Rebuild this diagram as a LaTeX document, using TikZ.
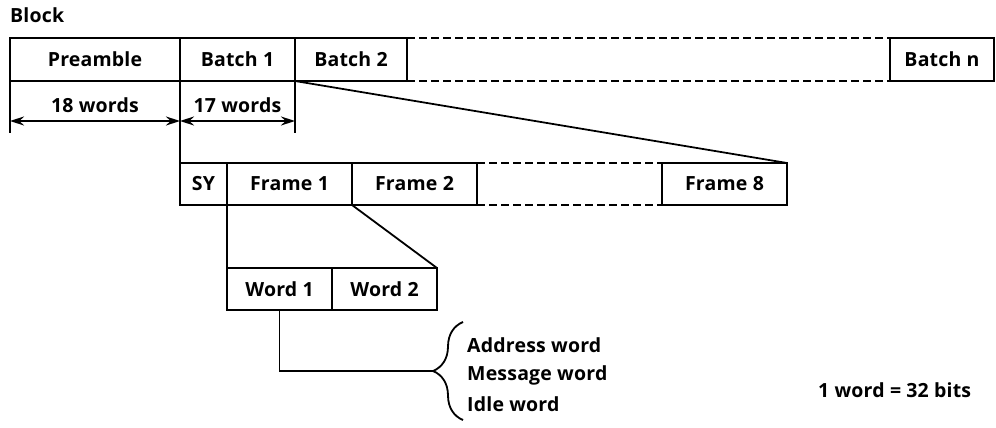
\documentclass[tikz,border=0pt]{standalone}
\usepackage{fontspec}
\newfontfamily\lblfont{Open Sans}[LetterSpace=1]
\usepackage{tikz}
\usetikzlibrary{positioning}
\usetikzlibrary{arrows.meta}
\usetikzlibrary{decorations.pathreplacing}

\begin{document}
\begin{tikzpicture}[x=1pt,y=-1pt,font=\lblfont\bfseries\fontsize{19.5}{23}\selectfont]
	\tikzstyle{BoxStyle}  = [draw, line width=1.8pt, minimum height=43pt, inner sep=0pt, outer sep=0pt, anchor=north west]
	\tikzstyle{LineStyle} = [line width=1.8pt]
	\tikzstyle{DashStyle} = [line width=1.8pt, dash pattern=on 8pt off 4pt]
	\tikzstyle{ArrowStyle}= [<->, >={Stealth[length=14pt,width=9pt]}, line width=1.4pt]
	\tikzstyle{TextStyle} = [anchor=west, inner sep=0pt]
	\useasboundingbox (0,0) rectangle (996,428);
	\node[TextStyle] (blk) at (10,15) {Block};
	\node[BoxStyle, minimum width=170pt] (pre) at (10,38) {Preamble};
	\node[BoxStyle, minimum width=115pt, right=0pt of pre] (b1) {Batch 1};
	\node[BoxStyle, minimum width=112pt, right=0pt of b1] (b2) {Batch 2};
	\node[BoxStyle, minimum width=104pt, right=483pt of b2] (bn) {Batch n};
	\node[BoxStyle, minimum width=47pt, minimum height=42pt, below=82pt of pre.south east, anchor=north west] (sy) {SY};
	\node[BoxStyle, minimum width=125pt, minimum height=42pt, right=0pt of sy] (f1) {Frame 1};
	\node[BoxStyle, minimum width=125pt, minimum height=42pt, right=0pt of f1] (f2) {Frame 2};
	\node[BoxStyle, minimum width=125pt, minimum height=42pt, right=185pt of f2] (f8) {Frame 8};
	\node[BoxStyle, minimum width=105pt, minimum height=42pt, below=63pt of f1.south west, anchor=north west] (w1) {Word 1};
	\node[BoxStyle, minimum width=105pt, minimum height=42pt, right=0pt of w1] (w2) {Word 2};
	\node[TextStyle] (adr) at (467,345) {Address word};
	\node[TextStyle] (msg) at (467,375) {Message word};
	\node[TextStyle] (idl) at (467,404) {Idle word};
	\node[TextStyle] (unit) at (818,390) {1 word = 32 bits};
	\coordinate (bt) at (463,322);
	\coordinate (bb) at (463,420);
	\coordinate (tip) at (433,371);
	\draw[DashStyle] (b2.north east) -- (bn.north west);
	\draw[DashStyle] (b2.south east) -- (bn.south west);
	\draw[DashStyle] (f2.north east) -- (f8.north west);
	\draw[DashStyle] (f2.south east) -- (f8.south west);
	\draw[LineStyle] (pre.south west) -- ++(0,52) coordinate (t0);
	\draw[LineStyle] (b1.south east) -- ++(0,52) coordinate (t2);
	\draw[LineStyle] (b1.south west) -- (sy.north west);
	\coordinate (t1) at (b1.south west |- t0);
	\draw[ArrowStyle] ([yshift=12pt]t0) -- ([yshift=12pt]t1) node[midway, above=8pt, inner sep=0pt] (l18) {18 words};
	\draw[ArrowStyle] ([yshift=12pt]t1) -- ([yshift=12pt]t2) node[midway, above=8pt, inner sep=0pt] (l17) {17 words};
	\draw[LineStyle] (b2.south west) -- (f8.north east);
	\draw[LineStyle] (f1.south west) -- (w1.north west);
	\draw[LineStyle] (f2.south west) -- (w2.north east);
	\draw[LineStyle] (w1.south) -- (w1.south |- tip) -- (tip);
	\draw[line width=1.8pt, decorate, decoration={brace, amplitude=30pt}] (bb) -- (bt);
\end{tikzpicture}
\end{document}
